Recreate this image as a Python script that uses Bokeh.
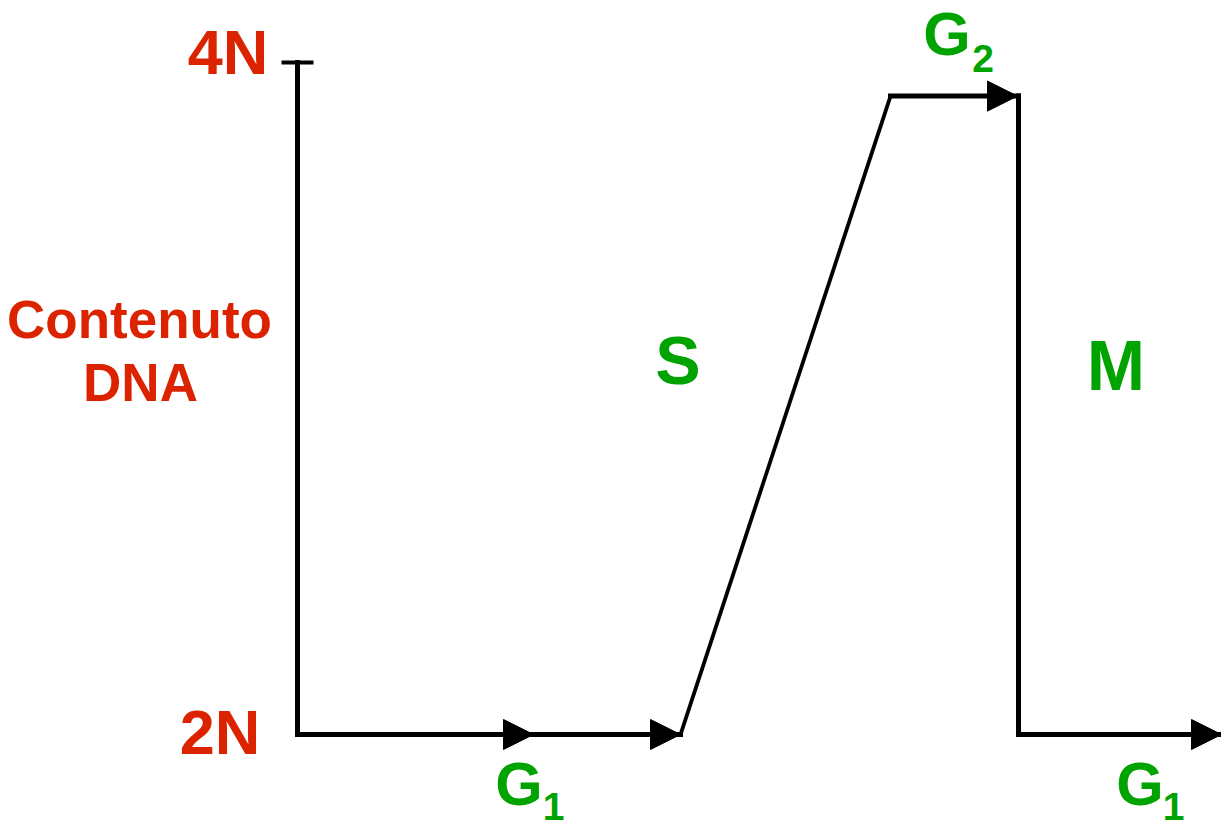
from bokeh.plotting import figure
from bokeh.models import Range1d, Arrow, NormalHead
from bokeh.core.properties import value
from bokeh.embed import file_html
from bokeh.resources import INLINE

# ---- data (time in arbitrary units, DNA content in N) ----
curve_t = [0.0, 3.83, 5.93, 7.21, 7.21, 9.24]
curve_dna = [2.0, 2.0, 3.90, 3.90, 2.0, 2.0]
seg_widths = [5, 3.8, 5, 5, 5]

arrow_t0 = [0.0, 2.36, 5.93, 7.21]
arrow_t1 = [2.36, 3.83, 7.20, 9.24]
arrow_dna = [2.0, 2.0, 3.90, 2.0]

axis_t = 0.0
axis_dna = [2.0, 4.0]
tick_labels = ["2N", "4N"]
tick_label_t = [-0.775, -0.695]
tick_label_dna = [2.0077, 4.0312]

ylabel_lines = ["Contenuto", "DNA"]
ylabel_t = [-1.58, -1.57]
ylabel_dna = [3.2342, 3.0466]

phase_big = ["S", "M"]
phase_big_t = [3.805, 8.185]
phase_big_dna = [3.1146, 3.0963]
phase_big_size = ["68px", "70px"]

phase_g = ["G", "G", "G"]
phase_g_t = [2.215, 6.495, 8.425]
phase_g_dna = [1.8535, 4.0857, 1.8535]
phase_sub = ["1", "2", "1"]
phase_sub_t = [2.56, 6.855, 8.76]
phase_sub_dna = [1.7863, 4.0123, 1.7863]

RED = "#DC2300"
GREEN = "#00A300"
FONT = value("Liberation Sans")

p = figure(width=1221, height=825, output_backend="svg", toolbar_location=None,
           x_range=Range1d(-2.97, 9.24), y_range=Range1d(1.72917, 4.18452),
           min_border=0, outline_line_color=None, background_fill_color="white",
           border_fill_color="white")
p.axis.visible = False
p.grid.visible = False

# y axis line and top tick
p.line([axis_t, axis_t], axis_dna, line_color="black", line_width=5, line_cap="square")
p.line([axis_t - 0.16, axis_t + 0.16], [axis_dna[1], axis_dna[1]], line_color="black", line_width=4)

# DNA content curve, segment by segment
xs = [[curve_t[i], curve_t[i + 1]] for i in range(len(curve_t) - 1)]
ys = [[curve_dna[i], curve_dna[i + 1]] for i in range(len(curve_dna) - 1)]
p.multi_line(xs=xs, ys=ys, line_color="black", line_width=seg_widths, line_cap="square")

# arrowheads
for t0, t1, d in zip(arrow_t0, arrow_t1, arrow_dna):
    p.add_layout(Arrow(end=NormalHead(size=30, fill_color="black", line_color="black", line_width=1),
                       x_start=t0, y_start=d, x_end=t1, y_end=d, line_alpha=0))

# texts
p.text(x=tick_label_t, y=tick_label_dna, text=tick_labels, text_font=FONT, text_font_style="bold",
       text_font_size="63px", text_color=RED, text_align="center", text_baseline="alphabetic")
p.text(x=ylabel_t, y=ylabel_dna, text=ylabel_lines, text_font=FONT, text_font_style="bold",
       text_font_size="53px", text_color=RED, text_align="center", text_baseline="alphabetic")
p.text(x=phase_big_t, y=phase_big_dna, text=phase_big, text_font=FONT, text_font_style="bold",
       text_font_size=phase_big_size, text_color=GREEN, text_align="center", text_baseline="alphabetic")
p.text(x=phase_g_t, y=phase_g_dna, text=phase_g, text_font=FONT, text_font_style="bold",
       text_font_size="61px", text_color=GREEN, text_align="center", text_baseline="alphabetic")
p.text(x=phase_sub_t, y=phase_sub_dna, text=phase_sub, text_font=FONT, text_font_style="bold",
       text_font_size="39px", text_color=GREEN, text_align="center", text_baseline="alphabetic")

open("out.html", "w").write(file_html(p, INLINE))
